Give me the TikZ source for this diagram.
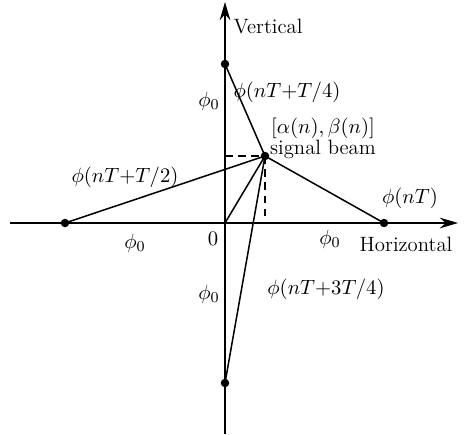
\documentclass[tikz,border=0pt]{standalone}
\usetikzlibrary{arrows.meta}

\begin{document}
\begin{tikzpicture}[
  x=0.53pt, y=-0.53pt,
  font=\fontsize{11}{13}\selectfont,
  axis/.style={line width=0.8pt, -{Stealth[length=3.4mm, width=2mm]}},
  ray/.style={line width=0.8pt},
  proj/.style={line width=0.8pt, dash pattern=on 4pt off 3pt},
  dot/.style={circle, fill, inner sep=0pt, minimum size=4.5pt},
  lb/.style={inner sep=1pt}]

  \useasboundingbox (0,0) rectangle (468,434);

  % axes
  \coordinate (O) at (225,223);
  \coordinate (xl) at (10,223);
  \coordinate (xr) at (458,223);
  \coordinate (yb) at (225,434);
  \coordinate (yt) at (225,2);
  \draw[ray] (xl) -- (O);
  \draw[axis] (O) -- (xr);
  \draw[ray] (yb) -- (O);
  \draw[axis] (O) -- (yt);

  % points
  \node[dot] (top) at (225,64) {};
  \node[dot] (left) at (65,223) {};
  \node[dot] (right) at (384,223) {};
  \node[dot] (bottom) at (225,383) {};
  \node[dot] (beam) at (265,156) {};
  \coordinate (bx) at (265,223);
  \coordinate (by) at (225,156);

  % projections
  \draw[proj] (by) -- (beam.center);
  \draw[proj] (beam.center) -- (bx);

  % rays
  \draw[ray] (beam.center) -- (top.center);
  \draw[ray] (beam.center) -- (left.center);
  \draw[ray] (beam.center) -- (right.center);
  \draw[ray] (beam.center) -- (bottom.center);
  \draw[ray] (beam.center) -- (O);

  % labels
  \node[lb] (vert) at (268,27) {Vertical};
  \node[lb] (horz) at (406,244) {Horizontal};
  \node[lb] (zero) at (213,239) {$0$};
  \node[lb] (p0t) at (209,101) {$\phi_0$};
  \node[lb] (p0l) at (135,243) {$\phi_0$};
  \node[lb] (p0r) at (330,239) {$\phi_0$};
  \node[lb] (p0b) at (209,294) {$\phi_0$};
  \node[lb] (lq) at (287,92) {$\phi(nT{+}T/4)$};
  \node[lb] (lh) at (125,177) {$\phi(nT{+}T/2)$};
  \node[lb] (l0) at (410,198) {$\phi(nT)$};
  \node[lb] (l3q) at (326,289) {$\phi(nT{+}3T/4)$};
  \node[lb, align=center] (sb) at (323,138)
    {$[\alpha(n),\beta(n)]$\\[-2pt] signal beam};
\end{tikzpicture}
\end{document}
